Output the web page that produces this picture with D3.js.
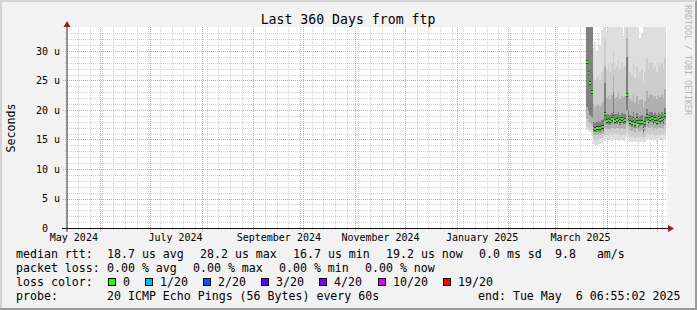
<!DOCTYPE html>
<html>
<head>
<meta charset="utf-8">
<script src="https://cdn.jsdelivr.net/npm/d3@7"></script>
<style>
  html, body { margin: 0; padding: 0; background: #f2f2f2; }
  svg text { font-family: "DejaVu Sans Mono", monospace; white-space: pre; }
</style>
</head>
<body>
<div id="chart"></div>
<script>
// smokeping style graph, last 360 days

var width = 697;
var height = 310;

// y ticks (micro seconds)
var yMajor = [0, 5, 10, 15, 20, 25, 30];

// x labels
var monthTicks = ["2024-05-16", "2024-07-16", "2024-09-16", "2024-11-16", "2025-01-16", "2025-03-16"];
var monthNames = ["May 2024", "July 2024", "September 2024", "November 2024", "January 2025", "March 2025"];

// one column per day, starting 2025-03-19 06:55
var median = [28.2, 26.2, 24.5, 23.0, 17.0, 16.8, 16.9, 17.0, 16.9, 17.2, 17.1, 19.4, 18.2, 18.3, 18.1, 18.4,
  19.4, 18.2, 18.3, 18.5, 18.1, 18.4, 18.2, 18.3, 22.5, 18.7, 18.0, 17.8, 18.5, 17.6, 18.4, 17.5,
  17.9, 18.0, 16.7, 17.8, 18.9, 18.2, 18.5, 18.6, 18.1, 18.4, 18.0, 18.6, 18.3, 18.5, 18.2, 19.2];
var pingMin = [16.6, 16.4, 16.2, 16.0, 14.2, 14.1, 14.0, 14.2, 14.3, 14.4, 14.6, 14.8, 15.0, 14.9, 15.0, 14.8,
  14.9, 15.0, 15.1, 14.9, 14.8, 14.9, 15.0, 14.8, 15.5, 15.0, 14.6, 14.5, 14.7, 14.5, 14.6, 14.4,
  14.5, 14.6, 14.3, 14.6, 14.9, 15.0, 14.9, 15.0, 14.8, 14.9, 14.8, 15.0, 14.9, 15.0, 14.8, 15.1];
var p10 = [17.2, 17.0, 16.8, 16.6, 15.0, 14.9, 14.9, 15.1, 15.1, 15.3, 15.4, 15.8, 15.8, 15.8, 15.9, 15.7,
  15.9, 15.9, 16.0, 15.9, 15.7, 15.8, 15.9, 15.7, 16.6, 16.0, 15.5, 15.4, 15.6, 15.3, 15.5, 15.3,
  15.4, 15.5, 15.1, 15.5, 15.9, 15.9, 15.8, 16.0, 15.7, 15.8, 15.7, 15.9, 15.8, 15.9, 15.7, 16.1];
var p25 = [18.4, 18.0, 17.8, 17.5, 15.8, 15.7, 15.7, 15.9, 15.8, 16.0, 16.0, 16.9, 16.7, 16.8, 16.7, 16.9,
  17.0, 16.8, 16.9, 17.0, 16.7, 16.9, 16.8, 16.8, 17.8, 17.1, 16.6, 16.4, 16.8, 16.3, 16.7, 16.2,
  16.5, 16.6, 15.8, 16.5, 17.2, 16.9, 17.0, 17.1, 16.8, 16.9, 16.7, 17.0, 16.9, 17.0, 16.8, 17.4];
var p40 = [20.5, 19.8, 19.2, 18.8, 16.4, 16.2, 16.3, 16.4, 16.3, 16.6, 16.5, 18.2, 17.6, 17.7, 17.5, 17.8,
  18.4, 17.6, 17.7, 17.9, 17.5, 17.8, 17.6, 17.7, 20.0, 18.0, 17.4, 17.2, 17.8, 17.0, 17.7, 16.9,
  17.3, 17.4, 16.2, 17.2, 18.2, 17.6, 17.9, 18.0, 17.5, 17.8, 17.4, 18.0, 17.7, 17.9, 17.6, 18.5];
var p60 = [36.0, 36.0, 36.0, 36.0, 18.0, 17.8, 17.9, 18.1, 17.9, 18.3, 18.4, 24.5, 19.3, 19.4, 19.1, 19.5,
  23.0, 19.3, 19.4, 19.7, 19.2, 19.5, 19.3, 19.4, 29.0, 20.0, 19.1, 18.9, 19.6, 18.7, 19.5, 18.6,
  19.0, 19.1, 18.1, 18.9, 20.2, 19.3, 19.6, 19.7, 19.2, 19.5, 19.1, 19.7, 19.4, 19.6, 19.3, 20.4];
var p75 = [37.0, 37.0, 37.0, 37.0, 21.0, 20.5, 20.8, 21.0, 20.6, 21.2, 21.5, 27.5, 22.0, 22.3, 21.8, 22.5,
  26.0, 22.0, 22.2, 22.8, 21.9, 22.4, 22.0, 22.3, 32.0, 23.0, 21.8, 21.5, 22.6, 21.2, 22.4, 21.0,
  21.7, 21.9, 20.5, 21.6, 23.2, 22.0, 22.5, 22.7, 21.9, 22.4, 21.8, 22.6, 22.2, 22.5, 22.0, 23.5];
var p90 = [38.0, 38.0, 38.0, 38.0, 26.0, 25.0, 25.5, 26.0, 25.0, 26.5, 27.0, 32.0, 27.0, 28.0, 26.5, 28.0,
  30.0, 27.0, 27.5, 28.5, 27.0, 28.0, 27.0, 27.5, 35.0, 29.0, 26.5, 26.0, 28.0, 25.5, 27.5, 25.5,
  26.5, 27.0, 24.5, 26.5, 29.0, 27.0, 28.0, 28.0, 27.0, 27.5, 26.5, 28.0, 27.5, 28.0, 27.0, 29.0];
var pingMax = [40, 40, 40, 40, 30.5, 31.5, 29.8, 33.0, 31.0, 33.5, 36, 36, 33.2, 36, 36, 36,
  36, 36, 36, 36, 36, 36, 32.5, 36, 36, 36, 36, 36, 36, 36, 36, 36,
  32.2, 33.0, 36, 36, 36, 36, 36, 36, 36, 36, 36, 36, 36, 36, 36, 36];

// legend
var lossLabels = ["0", "1/20", "2/20", "3/20", "4/20", "10/20", "19/20"];
var lossColors = ["#26ff00", "#00b8ff", "#0059ff", "#5e00ff", "#7e00ff", "#dd00ff", "#ff0000"];
var rttLegend = ["median rtt:", "18.7 us avg", "28.2 us max", "16.7 us min", "19.2 us now", "0.0 ms sd", "9.8   am/s"];
var lossLegend = ["packet loss:", "0.00 % avg", "0.00 % max", "0.00 % min", "0.00 % now"];
var probeLegend = ["probe:", "20 ICMP Echo Pings (56 Bytes) every 60s", "end: Tue May  6 06:55:02 2025"];

var endTime = new Date(2025, 4, 6, 6, 55, 2);
var startTime = d3.timeDay.offset(endTime, -360);
var dataStart = new Date(2025, 2, 19, 6, 55, 2);

var svg = d3.select("#chart").append("svg")
    .attr("width", width)
    .attr("height", height);

// background + 3d border
svg.append("rect").attr("width", width).attr("height", height).attr("fill", "#f2f2f2");
svg.append("path").attr("d", "M0,0H697V2H2V310H0Z").attr("fill", "#d4d4d4");
svg.append("path").attr("d", "M697,0V310H0V308H695V2Z").attr("fill", "#9a9a9a");

var x = d3.scaleTime().domain([startTime, endTime]).range([66, 666]);
var y = d3.scaleLinear().domain([0, 200 / 5.9]).range([228, 28]);

// canvas
svg.append("rect")
    .attr("x", 67).attr("y", 27).attr("width", 600).attr("height", 201)
    .attr("fill", "#ffffff");

var grid = svg.append("g").attr("shape-rendering", "crispEdges");

// minor grid, horizontal
grid.selectAll(".hminor")
    .data(d3.range(1, 34).filter(function(v) { return v % 5 != 0; }))
    .enter().append("line")
    .attr("x1", 65).attr("x2", 667)
    .attr("y1", function(d) { return Math.round(y(d)) + 0.5; })
    .attr("y2", function(d) { return Math.round(y(d)) + 0.5; })
    .attr("stroke", "#d2d2d2").attr("stroke-dasharray", "1,1");

// minor grid, weekly
grid.selectAll(".vminor")
    .data(d3.timeSunday.range(startTime, endTime))
    .enter().append("line")
    .attr("x1", function(d) { return Math.floor(x(d)) + 0.5; })
    .attr("x2", function(d) { return Math.floor(x(d)) + 0.5; })
    .attr("y1", 27).attr("y2", 230)
    .attr("stroke", "#d2d2d2").attr("stroke-dasharray", "1,1");

// major grid
grid.selectAll(".hmajor")
    .data(yMajor.slice(1))
    .enter().append("line")
    .attr("x1", 63).attr("x2", 667)
    .attr("y1", function(d) { return Math.round(y(d)) + 0.5; })
    .attr("y2", function(d) { return Math.round(y(d)) + 0.5; })
    .attr("stroke", "#eb9c9c").attr("stroke-dasharray", "1,1");

grid.selectAll(".vmajor")
    .data(d3.timeMonth.range(startTime, endTime))
    .enter().append("line")
    .attr("x1", function(d) { return Math.floor(x(d)) + 0.5; })
    .attr("x2", function(d) { return Math.floor(x(d)) + 0.5; })
    .attr("y1", 27).attr("y2", 232)
    .attr("stroke", "#eb9c9c").attr("stroke-dasharray", "1,1");

// smoke
var cols = median.map(function(m, i) {
    var t0 = d3.timeDay.offset(dataStart, i);
    var t1 = d3.timeDay.offset(dataStart, i + 1);
    return {
        x0: Math.round(x(t0)), x1: Math.round(x(t1)),
        lo: pingMin[i], q10: p10[i], q25: p25[i], q40: p40[i], med: m,
        q60: p60[i], q75: p75[i], q90: p90[i], hi: pingMax[i]
    };
});

var bands = [["lo", "hi", "#dedede"], ["q10", "q90", "#cdcdcd"], ["q25", "q75", "#b0b0b0"], ["q40", "q60", "#808080"]];

svg.append("clipPath").attr("id", "plotclip")
    .append("rect").attr("x", 67).attr("y", 27).attr("width", 600).attr("height", 201);

var smoke = svg.append("g")
    .attr("clip-path", "url(#plotclip)")
    .attr("shape-rendering", "crispEdges");

bands.forEach(function(b) {
    smoke.append("g").selectAll("rect")
        .data(cols)
        .enter().append("rect")
        .attr("x", function(d) { return d.x0; })
        .attr("width", function(d) { return d.x1 - d.x0; })
        .attr("y", function(d) { return Math.round(y(d[b[1]])); })
        .attr("height", function(d) { return Math.round(y(d[b[0]])) - Math.round(y(d[b[1]])); })
        .attr("fill", b[2]);
});

// dark core right around the median
smoke.append("g").selectAll("rect")
    .data(cols)
    .enter().append("rect")
    .attr("x", function(d) { return d.x0; })
    .attr("width", function(d) { return d.x1 - d.x0; })
    .attr("y", function(d) { return Math.round(y(d.med)) - 2; })
    .attr("height", 4)
    .attr("fill", "#3a3a3a");

// median, coloured by loss (all 0 here)
smoke.append("g").selectAll("rect")
    .data(cols)
    .enter().append("rect")
    .attr("x", function(d) { return d.x0; })
    .attr("width", function(d) { return d.x1 - d.x0; })
    .attr("y", function(d) { return Math.round(y(d.med)) - 1; })
    .attr("height", 2)
    .attr("fill", lossColors[0]);

// axes
svg.append("line")
    .attr("x1", 67).attr("x2", 67).attr("y1", 232).attr("y2", 26)
    .attr("stroke", "#333");
svg.append("line")
    .attr("x1", 62).attr("x2", 669).attr("y1", 228.5).attr("y2", 228.5)
    .attr("stroke", "#111").attr("stroke-width", 1.2);
svg.append("path").attr("d", "M63.5,27L67,21L70.5,27Z").attr("fill", "#9b1b1b");
svg.append("path").attr("d", "M668,225L674,228.5L668,232Z").attr("fill", "#9b1b1b");

// y labels
var ylab = svg.append("g").attr("font-size", "10px");
ylab.selectAll(".num")
    .data(yMajor)
    .enter().append("text")
    .attr("x", 48)
    .attr("y", function(d) { return y(d) + 3.8; })
    .attr("text-anchor", "end")
    .text(function(d) { return d; });
ylab.selectAll(".unit")
    .data(yMajor.slice(1))
    .enter().append("text")
    .attr("x", 54)
    .attr("y", function(d) { return y(d) + 3.8; })
    .text("u");

// x labels
var parseDay = d3.timeParse("%Y-%m-%d");
svg.append("g").attr("font-size", "10px")
    .selectAll("text")
    .data(monthTicks)
    .enter().append("text")
    .attr("x", function(d) { return x(parseDay(d)); })
    .attr("y", 240.5)
    .attr("text-anchor", "middle")
    .text(function(d, i) { return monthNames[i]; });

// title
svg.append("text")
    .attr("x", 348).attr("y", 24)
    .attr("text-anchor", "middle")
    .attr("font-size", "13.2px")
    .text("Last 360 Days from ftp");

// vertical label
svg.append("text")
    .attr("transform", "translate(15,128) rotate(-90)")
    .attr("text-anchor", "middle")
    .attr("font-size", "11.6px")
    .text("Seconds");

// watermark
svg.append("text")
    .attr("transform", "translate(685,5) rotate(90)")
    .attr("font-size", "8.3px")
    .attr("fill", "#b4b4b4")
    .text("RRDTOOL / TOBI OETIKER");

// legend
var legend = svg.append("g").attr("font-size", "11.6px");
var rttX = [16, 107, 200, 293, 386, 479, 555];
var lossX = [16, 107, 193, 279, 365];
var probeX = [16, 107, 478];
var boxX = [108, 145, 203, 261, 319, 378, 443];

function legendRow(items, xs, baseline) {
    legend.append("g").selectAll("text")
        .data(items)
        .enter().append("text")
        .attr("x", function(d, i) { return xs[i]; })
        .attr("y", baseline)
        .text(function(d) { return d; });
}
legendRow(rttLegend, rttX, 258);
legendRow(lossLegend, lossX, 272);
legendRow(probeLegend, probeX, 300);

legend.append("text").attr("x", 16).attr("y", 286).text("loss color:");
legend.append("g").attr("shape-rendering", "crispEdges")
    .selectAll("rect")
    .data(lossColors)
    .enter().append("rect")
    .attr("x", function(d, i) { return boxX[i] + 0.5; })
    .attr("y", 278.5)
    .attr("width", 7).attr("height", 7)
    .attr("fill", function(d) { return d; })
    .attr("stroke", "#000");
legend.append("g").selectAll("text")
    .data(lossLabels)
    .enter().append("text")
    .attr("x", function(d, i) { return boxX[i] + 15; })
    .attr("y", 286)
    .text(function(d) { return d; });
</script>
</body>
</html>
